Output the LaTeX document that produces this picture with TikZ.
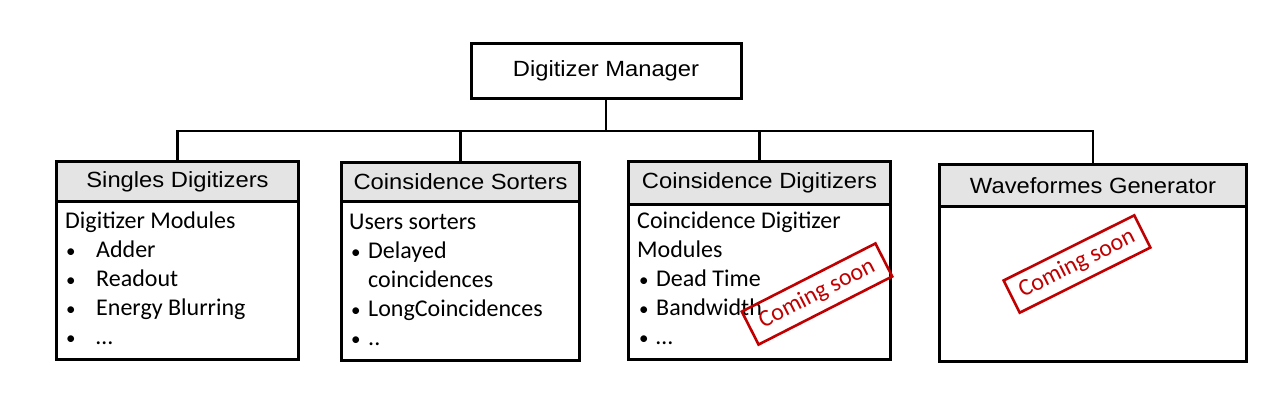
\documentclass[tikz,border=0pt]{standalone}
\usepackage{fontspec}
\setmainfont{Carlito}
\newfontfamily\hdrfont[FakeStretch=1.08]{Liberation Sans}
\definecolor{hdrgray}{RGB}{228,228,228}
\definecolor{stampred}{RGB}{192,0,0}
\newcommand{\blt}[1]{\makebox[#1][l]{\fontsize{19}{29}\selectfont •}}
\begin{document}
\begin{tikzpicture}[x=1pt,y=-1pt,
  box/.style={draw=black, line width=3pt, inner sep=0pt, anchor=north west},
  hdr/.style={box, fill=hdrgray, font=\hdrfont\fontsize{22}{26}\selectfont},
  mgrbox/.style={draw=black, line width=3pt, fill=white, inner sep=0pt, font=\hdrfont\fontsize{22}{26}\selectfont, minimum width=270pt, minimum height=55pt},
  conn/.style={line width=2.8pt},
  bodytxt/.style={anchor=base west, inner sep=0pt, font=\fontsize{24}{29}\selectfont},
  stamp/.style={draw=stampred, text=stampred, line width=2.6pt, inner sep=0pt, font=\fontsize{24}{28}\selectfont}
]
\useasboundingbox (0,0) rectangle (1273,407);

% manager
\node[mgrbox] (mgr) at (606,70.5) {Digitizer Manager};

% boxes: bodies
\node[box, minimum width=242pt, minimum height=158pt] (b1) at (55,200) {};
\node[box, minimum width=238pt, minimum height=159pt] (b2) at (340,200) {};
\node[box, minimum width=262pt, minimum height=155pt] (b3) at (627,203) {};
\node[box, minimum width=307pt, minimum height=155pt] (b4) at (938,205) {};

% headers
\node[hdr, minimum width=242pt, minimum height=40pt] (h1) at (55,160) {Singles Digitizers};
\node[hdr, minimum width=238pt, minimum height=39pt] (h2) at (340,161) {Coinsidence Sorters};
\node[hdr, minimum width=262pt, minimum height=43pt] (h3) at (627,160) {Coinsidence Digitizers};
\node[hdr, minimum width=307pt, minimum height=42pt] (h4) at (938,163) {Waveformes Generator};

% connectors
\coordinate (bus) at (606,131);
\draw[conn] (mgr.south) -- (bus);
\draw[conn] (h1.north) |- (bus);
\draw[conn] (h2.north) |- (bus);
\draw[conn] (h3.north) |- (bus);
\draw[conn] (h4.north) |- (bus);

% box 1 text
\node[bodytxt] (t1a) at (65,228) {Digitizer Modules};
\node[bodytxt] (t1b) at (66,257) {\blt{30pt}Adder};
\node[bodytxt] (t1c) at (66,286) {\blt{30pt}Readout};
\node[bodytxt] (t1d) at (66,315) {\blt{30pt}Energy Blurring};
\node[bodytxt] (t1e) at (66,344) {\blt{30pt}…};

% box 2 text
\node[bodytxt] (t2a) at (349,229.5) {Users sorters};
\node[bodytxt] (t2b) at (351,258.5) {\blt{17pt}Delayed};
\node[bodytxt] (t2c) at (368,287.5) {coincidences};
\node[bodytxt] (t2d) at (351,316.5) {\blt{17pt}LongCoincidences};
\node[bodytxt] (t2e) at (351,345.5) {\blt{17pt}..};

% box 3 text
\node[bodytxt] (t3a) at (637,228) {Coincidence Digitizer};
\node[bodytxt] (t3b) at (637,257) {Modules};
\node[bodytxt] (t3c) at (639,286) {\blt{17pt}Dead Time};
\node[bodytxt] (t3d) at (639,315) {\blt{17pt}Bandwidth};
\node[bodytxt] (t3e) at (639,344) {\blt{17pt}…};

% stamps
\node[stamp, minimum width=150pt, minimum height=37pt, rotate=27] (s1) at (817,294) {Coming soon};
\node[stamp, minimum width=146pt, minimum height=36pt, rotate=26.5] (s2) at (1077,264) {Coming soon};
\end{tikzpicture}
\end{document}
